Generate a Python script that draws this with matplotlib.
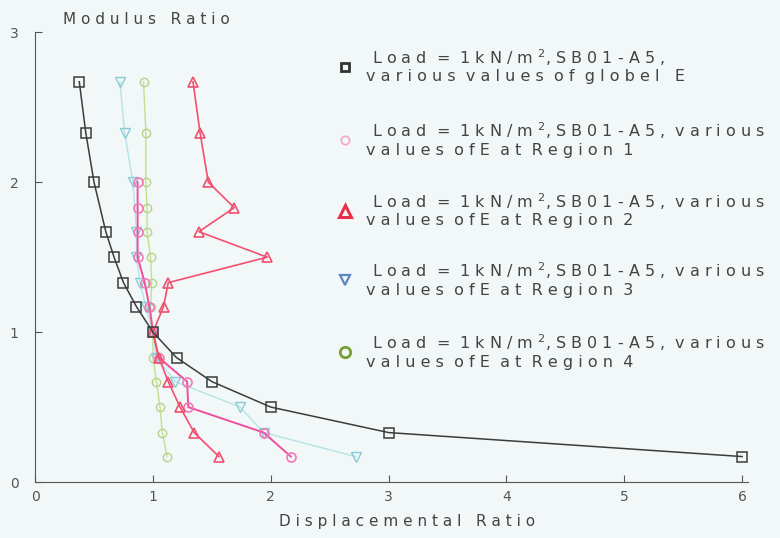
import numpy as np
import matplotlib.pyplot as plt
from matplotlib.lines import Line2D

# modulus ratio (y) and displacemental ratio (x)
global_mod = [2.67, 2.33, 2.0, 1.67, 1.5, 1.33, 1.17, 1.0, 0.83, 0.67, 0.5, 0.33, 0.17]
global_disp = [0.375, 0.43, 0.5, 0.6, 0.67, 0.75, 0.86, 1.0, 1.2, 1.5, 2.0, 3.0, 6.0]

region_mod = [2.67, 2.33, 2.0, 1.83, 1.67, 1.5, 1.33, 1.17, 1.0, 0.83, 0.67, 0.5, 0.33, 0.17]
r2_disp = [1.34, 1.40, 1.47, 1.69, 1.39, 1.97, 1.13, 1.09, 1.0, 1.05, 1.13, 1.23, 1.35, 1.56]
r4_disp = [0.92, 0.94, 0.94, 0.95, 0.95, 0.98, 0.99, 0.98, 1.0, 1.0, 1.03, 1.06, 1.08, 1.12]

r1_mod = [2.0, 1.83, 1.67, 1.5, 1.33, 1.17, 1.0, 0.83, 0.67, 0.5, 0.33, 0.17]
r1_disp = [0.87, 0.87, 0.87, 0.87, 0.93, 0.97, 1.0, 1.05, 1.29, 1.30, 1.94, 2.17]

r3_mod = [2.67, 2.33, 2.0, 1.67, 1.5, 1.33, 1.17, 1.0, 0.83, 0.67, 0.5, 0.33, 0.17]
r3_disp = [0.72, 0.76, 0.83, 0.86, 0.86, 0.89, 0.94, 1.0, 1.03, 1.19, 1.74, 1.94, 2.72]

x_ticks = [0, 1, 2, 3, 4, 5, 6]
y_ticks = [0, 1, 2, 3]

bg = '#f2f7f8'


def spaced(s):
    # wide letter spacing like the scanned figure
    return ' '.join(s)


fig = plt.figure(figsize=(7.8, 5.38), dpi=100, facecolor=bg)
ax = fig.add_axes([0.045, 0.104, 0.914, 0.836], facecolor=bg)

ax.plot(r4_disp, region_mod, '-o', color='#c4e08c', lw=1, mfc='none', mec='#b4d48c', ms=6, mew=1)
ax.plot(r3_disp, r3_mod, '-v', color='#b4e4e4', lw=1, mfc='none', mec='#88ccd8', ms=6.5, mew=1)
ax.plot(r1_disp, r1_mod, '-o', color='#ee4f9e', lw=1.4, mfc='none', mec='#f07ab8', ms=6.5, mew=1.2)
ax.plot(r2_disp, region_mod, '-^', color='#f2506e', lw=1.2, mfc='none', mec='#f0506e', ms=6.5, mew=1.2)
ax.plot(global_disp, global_mod, '-s', color='#3c3c3c', lw=1.1, mfc='none', mec='#3c3c3c', ms=6.5, mew=1.1)

ax.set_xlim(0, 6.05)
ax.set_ylim(0, 3)
ax.set_xticks(x_ticks)
ax.set_yticks(y_ticks)
ax.tick_params(direction='in', length=5, color='#555555', labelcolor='#555555', labelsize=10)
ax.tick_params(axis='x', pad=6)
ax.tick_params(axis='y', pad=12)
for s in ['top', 'right']:
    ax.spines[s].set_visible(False)
for s in ['left', 'bottom']:
    ax.spines[s].set_color('#555555')

fig.text(0.081, 0.963, spaced('Modulus') + '   ' + spaced('Ratio'), fontsize=11,
         color='#444444', ha='left', va='center')
fig.text(0.522, 0.03, spaced('Displacemental') + '   ' + spaced('Ratio'), fontsize=11,
         color='#444444', ha='center', va='center')

# legend drawn by hand
line1 = spaced('Load') + '  =  ' + spaced('1kN/m') + r' $^{2}$, ' + spaced('SB01-A5') + ' ,'
line1b = line1 + '  ' + spaced('various')
tail = spaced('values') + '  ' + spaced('of') + ' E  ' + spaced('at') + '  ' + spaced('Region') + '  '
legend_items = [
    ('s', '#333333', 6, 2.0, line1, spaced('various') + '  ' + spaced('values') + '  ' + spaced('of') + '  ' + spaced('globel') + '   E'),
    ('o', '#f4a6c8', 6, 1.2, line1b, tail + '1'),
    ('^', '#e8304a', 9, 2.2, line1b, tail + '2'),
    ('v', '#5a86c4', 7.5, 1.6, line1b, tail + '3'),
    ('o', '#76a032', 7.5, 2.0, line1b, tail + '4'),
]
row_y = [67, 140, 211, 280, 352]
for (mk, c, ms, mew, t1, t2), yp in zip(legend_items, row_y):
    yf = 1 - yp / 538
    fig.add_artist(Line2D([345 / 780], [yf], marker=mk, color=c, mfc='none', ms=ms, mew=mew,
                          transform=fig.transFigure))
    fig.text(372 / 780, 1 - (yp - 9) / 538, t1, fontsize=11.5, color='#444444', va='center')
    fig.text(366 / 780, 1 - (yp + 10) / 538, t2, fontsize=11.5, color='#444444', va='center')

plt.savefig('out.png', dpi=100, facecolor=bg)
